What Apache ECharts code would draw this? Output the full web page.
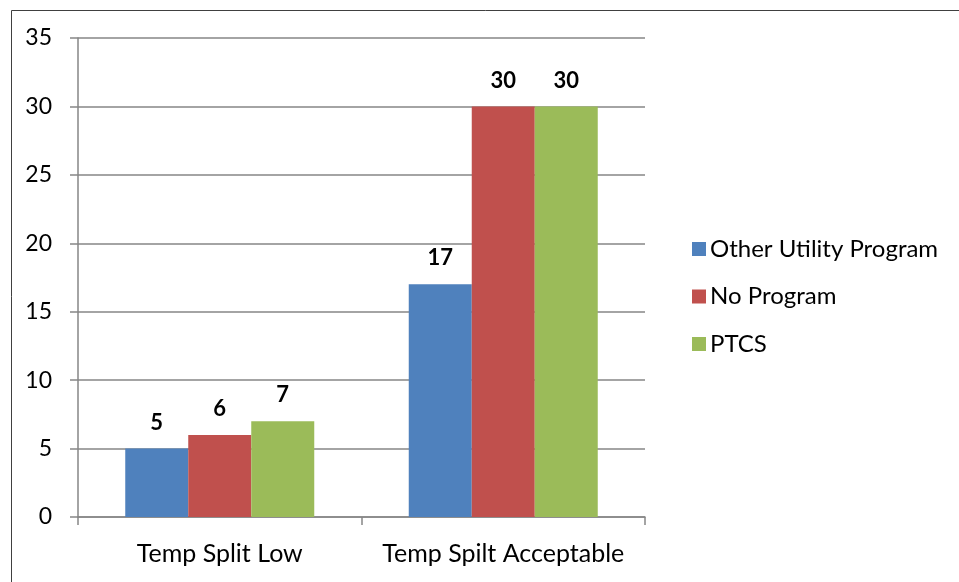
<!DOCTYPE html>
<html><head><meta charset="utf-8">
<script src="https://cdn.jsdelivr.net/npm/echarts@6/dist/echarts.min.js"></script>
<style>html,body{margin:0;padding:0;background:#fff}#c{width:959px;height:582px}</style>
</head><body><div id="c"></div>
<script>
const categories = ['Temp Split Low', 'Temp Spilt Acceptable'];
const seriesNames = ['Other Utility Program', 'No Program', 'PTCS'];
const otherUtility = [5, 17];
const noProgram = [6, 30];
const ptcs = [7, 30];
const colors = ['#4F81BD', '#C0504D', '#9BBB59'];
const FONT = 'Lato, "Open Sans", sans-serif';

const chart = echarts.init(document.getElementById('c'), null, {renderer: 'canvas'});
const mk = (name, data, color) => ({
  name, type: 'bar', data, barWidth: 63, barGap: '0%',
  itemStyle: {color},
  label: {show: true, position: 'top', distance: 15, fontFamily: FONT, fontWeight: 'bold', fontSize: 22, color: '#000'}
});
chart.setOption({
  animation: false,
  textStyle: {fontFamily: FONT},
  graphic: [{type: 'rect', left: 9, top: 8, shape: {width: 1000, height: 700}, style: {fill: 'none', stroke: '#404040', lineWidth: 1}, silent: true, z: -1}],
  grid: {left: 78, top: 38, width: 567, height: 479, containLabel: false},
  xAxis: {
    type: 'category', data: categories,
    axisLine: {lineStyle: {color: '#868686', width: 1.5}},
    axisTick: {show: true, length: 8, alignWithLabel: false, lineStyle: {color: '#868686', width: 1.5}},
    axisLabel: {interval: 0, fontFamily: FONT, fontSize: 25, color: '#000', margin: 24}
  },
  yAxis: {
    type: 'value', min: 0, max: 35, interval: 5,
    axisLine: {show: true, lineStyle: {color: '#868686', width: 1.5}},
    axisTick: {show: true, length: 8, lineStyle: {color: '#868686', width: 1.5}},
    splitLine: {lineStyle: {color: '#868686', width: 1.5}},
    axisLabel: {fontFamily: FONT, fontSize: 23, color: '#000', margin: 26}
  },
  legend: {
    orient: 'vertical', left: 687, top: 232, itemWidth: 14, itemHeight: 14, itemGap: 23.5,
    icon: 'rect',
    textStyle: {fontFamily: FONT, fontSize: 24, color: '#000', padding: [0,0,0,-1]},
    data: seriesNames
  },
  series: [mk(seriesNames[0], otherUtility, colors[0]), mk(seriesNames[1], noProgram, colors[1]), mk(seriesNames[2], ptcs, colors[2])]
});
</script></body></html>
